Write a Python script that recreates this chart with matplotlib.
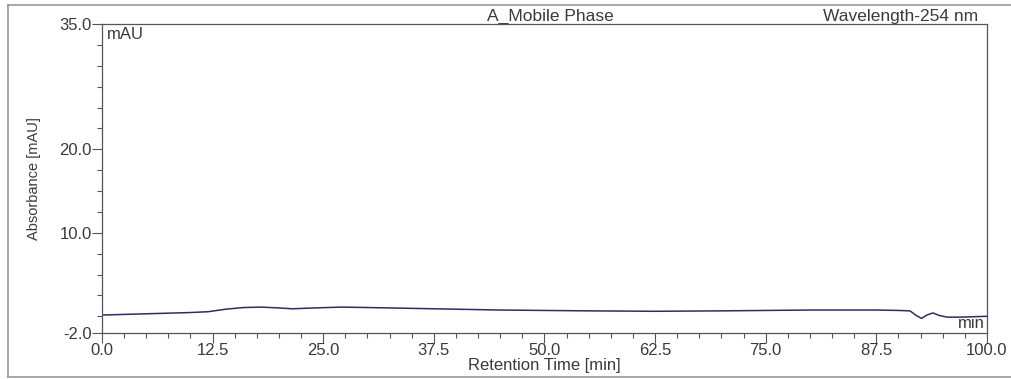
import numpy as np
import matplotlib
matplotlib.use("Agg")
import matplotlib.pyplot as plt
from matplotlib.ticker import MultipleLocator, FixedLocator
from matplotlib.lines import Line2D

plt.rcParams['font.family'] = ['Liberation Sans', 'DejaVu Sans']

# baseline trace of the blank (mobile phase) run
time_min = [0, 5, 10, 12, 14, 16, 18, 20, 21.5, 24, 27, 30, 35, 40, 45, 50, 55,
            62.5, 70, 75, 80, 87.5, 90, 91.3, 92.0, 92.6, 93.2, 93.9, 94.6,
            95.5, 97, 100]
absorbance = [0.15, 0.3, 0.45, 0.55, 0.85, 1.05, 1.1, 1.0, 0.9, 1.0, 1.1, 1.05,
              0.95, 0.85, 0.75, 0.7, 0.65, 0.6, 0.65, 0.7, 0.75, 0.75, 0.7,
              0.65, 0.1, -0.25, 0.15, 0.4, 0.1, -0.1, -0.1, 0.0]

x_major = [0.0, 12.5, 25.0, 37.5, 50.0, 62.5, 75.0, 87.5, 100.0]
y_major = [-2.0, 10.0, 20.0, 35.0]
y_minor = [0, 2.5, 5, 7.5, 12.5, 15, 17.5, 22.5, 25, 27.5, 30, 32.5]

sample_name = "A_Mobile Phase"
detector = "Wavelength-254 nm"

txt = '#3a3a3a'
fig = plt.figure(figsize=(10.12, 3.79), dpi=100)
ax = fig.add_axes([102/1012, 1-333/379, 885/1012, 309/379])

ax.plot(time_min, absorbance, color='#2b2f5e', lw=1.1)

ax.set_xlim(0, 100)
ax.set_ylim(-2, 35)
ax.xaxis.set_major_locator(FixedLocator(x_major))
ax.xaxis.set_minor_locator(MultipleLocator(2.5))
ax.yaxis.set_major_locator(FixedLocator(y_major))
ax.yaxis.set_minor_locator(FixedLocator(y_minor))
ax.set_xticklabels(['%.1f' % v for v in x_major])
ax.set_yticklabels(['%.1f' % v for v in y_major])

ax.tick_params(which='major', length=7.5, width=0.8, color='#555555',
               labelsize=12, labelcolor=txt, pad=0)
ax.tick_params(which='minor', length=3.5, width=0.8, color='#555555')
for s in ax.spines.values():
    s.set_color('#555555')
    s.set_linewidth(0.9)

ax.set_xlabel("Retention Time [min]", fontsize=12, color=txt, labelpad=0)
ax.set_ylabel("Absorbance [mAU]", fontsize=10.5, color=txt, labelpad=13)

ax.text(0.005, 0.99, "mAU", transform=ax.transAxes, ha='left', va='top',
        fontsize=12, color=txt)
ax.text(0.997, 0.005, "min", transform=ax.transAxes, ha='right', va='bottom',
        fontsize=12, color=txt)
ax.text(0.507, 1.0, sample_name, transform=ax.transAxes, ha='center',
        va='bottom', fontsize=12.5, color=txt)
ax.text(0.99, 1.0, detector, transform=ax.transAxes, ha='right',
        va='bottom', fontsize=12.5, color=txt)

# page frame around the report panel
fc = '#9a9a9a'
fig.add_artist(Line2D([8/1012, 1], [1-5/379, 1-5/379], transform=fig.transFigure,
                      color=fc, lw=1.2))
fig.add_artist(Line2D([8/1012, 8/1012], [1-5/379, 1-377/379],
                      transform=fig.transFigure, color=fc, lw=1.2))
fig.add_artist(Line2D([8/1012, 1], [1-377/379, 1-377/379],
                      transform=fig.transFigure, color=fc, lw=1.2))

fig.savefig("out.png", dpi=100)
